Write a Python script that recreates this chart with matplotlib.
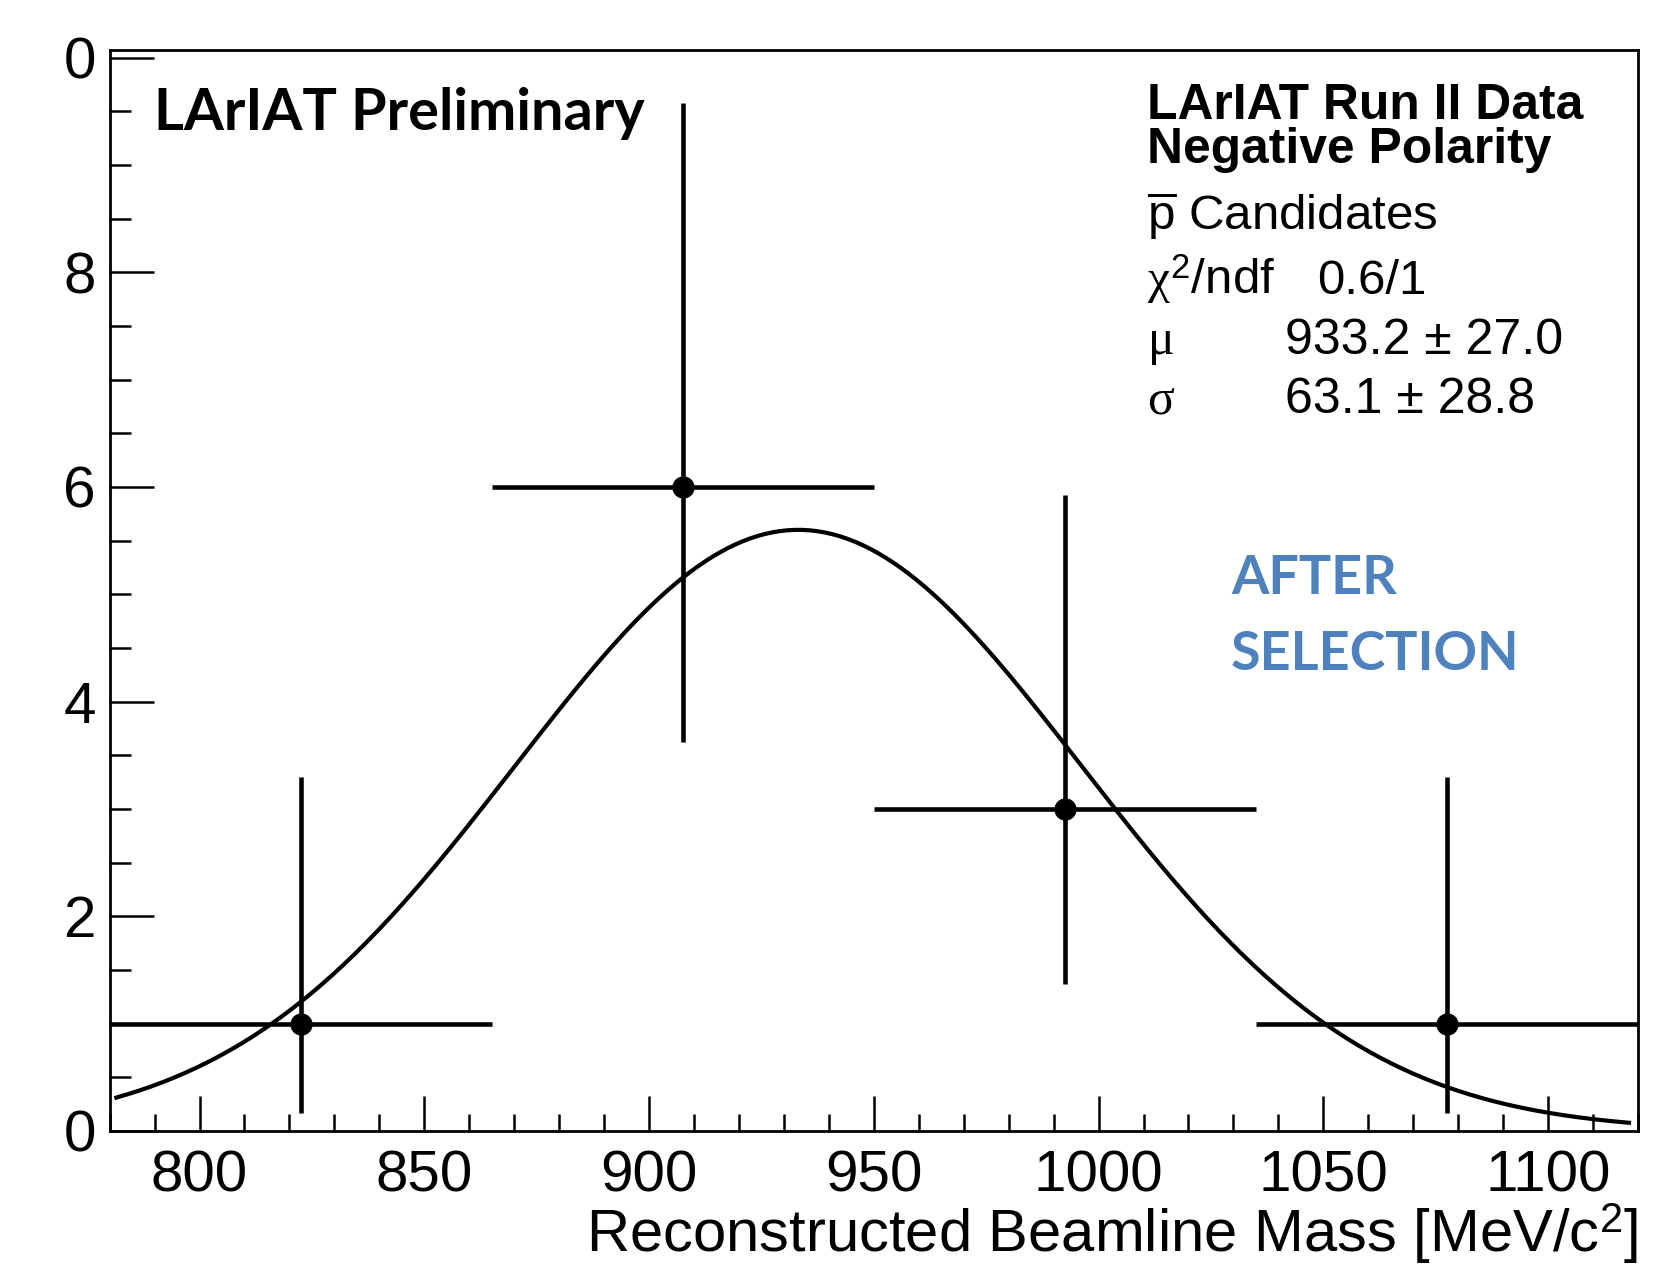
import numpy as np
import matplotlib
matplotlib.use("Agg")
import matplotlib.pyplot as plt
from matplotlib.ticker import MultipleLocator

plt.rcParams['font.family'] = ['Liberation Sans', 'DejaVu Sans']
plt.rcParams['mathtext.fontset'] = 'custom'
plt.rcParams['mathtext.rm'] = 'Liberation Sans'
plt.rcParams['mathtext.it'] = 'Liberation Serif'

# histogram data (antiproton candidates, 4 bins of 85 MeV)
bin_edges = [780, 865, 950, 1035, 1120]
counts = [1, 6, 3, 1]
err_low = [0.83, 2.38, 1.63, 0.83]
err_high = [2.30, 3.58, 2.92, 2.30]

# gaussian fit
fit_amp = 5.6
fit_mu = 933.2
fit_sigma = 63.1
fit_range = [781.5, 1118]

ytick_vals = [0, 2, 4, 6, 8, 10]
ytick_labels = ['0', '2', '4', '6', '8', '0']

W, H = 1668, 1266
fig = plt.figure(figsize=(W / 100, H / 100), dpi=100)
ax = fig.add_axes([109.6 / W, 1 - 1131 / H, (1638 - 109.6) / W, (1131 - 50) / H])

edges = np.array(bin_edges, dtype=float)
centers = (edges[:-1] + edges[1:]) / 2
half_w = (edges[1:] - edges[:-1]) / 2

ax.errorbar(centers, counts, xerr=half_w, yerr=[err_low, err_high], fmt='o',
            color='black', ms=15, elinewidth=3.3, capsize=0, zorder=3)

xf = np.linspace(fit_range[0], fit_range[1], 400)
yf = fit_amp * np.exp(-0.5 * ((xf - fit_mu) / fit_sigma) ** 2)
ax.plot(xf, yf, color='black', lw=3.0, zorder=2)

ax.set_xlim(780, 1120)
ax.set_ylim(0, 10.07)

ax.xaxis.set_major_locator(MultipleLocator(50))
ax.xaxis.set_minor_locator(MultipleLocator(10))
ax.set_yticks(ytick_vals)
ax.set_yticklabels(ytick_labels)
ax.yaxis.set_minor_locator(MultipleLocator(0.5))

ax.tick_params(axis='x', which='major', direction='in', length=25, width=1.8,
               labelsize=42, pad=13, top=False)
ax.tick_params(axis='x', which='minor', direction='in', length=12, width=1.8, top=False)
ax.tick_params(axis='y', which='major', direction='in', length=32, width=1.8,
               labelsize=42, pad=10, right=False)
ax.tick_params(axis='y', which='minor', direction='in', length=15, width=1.8, right=False)
for s in ax.spines.values():
    s.set_linewidth(2.0)

ax.set_xlabel('Reconstructed Beamline Mass [MeV/c$^{\\mathrm{2}}$]', fontsize=43,
              loc='right', labelpad=-1)

def fy(ypix):
    return 1 - ypix / H

fig.text(154 / W, fy(130), 'LArIAT Preliminary', family='Lato', weight='bold',
         fontsize=41.5, va='baseline')

fig.text(1147 / W, fy(119), 'LArIAT Run II Data', weight='bold', fontsize=35.8, va='baseline')
fig.text(1147 / W, fy(163), 'Negative Polarity', weight='bold', fontsize=35.8, va='baseline')
fig.text(1147 / W, fy(229), r'$\overline{\mathrm{p}}$ Candidates', fontsize=35.5, va='baseline')
fig.text(1147 / W, fy(294), r'$\chi^{\mathrm{2}}$/ndf', fontsize=35.5, va='baseline')
fig.text(1317 / W, fy(294), '0.6/1', fontsize=35.5, va='baseline')
fig.text(1147 / W, fy(354), r'$\mu$', fontsize=36, va='baseline')
fig.text(1285 / W, fy(354), '933.2 \u00b1 27.0', fontsize=36, va='baseline')
fig.text(1147 / W, fy(413), r'$\sigma$', fontsize=36, va='baseline')
fig.text(1285 / W, fy(413), '63.1 \u00b1 28.8', fontsize=36, va='baseline')

fig.text(1231 / W, fy(594), 'AFTER', family='Lato', weight='bold', fontsize=38.8,
         color='#4f81bd', va='baseline')
fig.text(1231 / W, fy(670), 'SELECTION', family='Lato', weight='bold', fontsize=38.8,
         color='#4f81bd', va='baseline')

fig.savefig('out.png', dpi=100)
